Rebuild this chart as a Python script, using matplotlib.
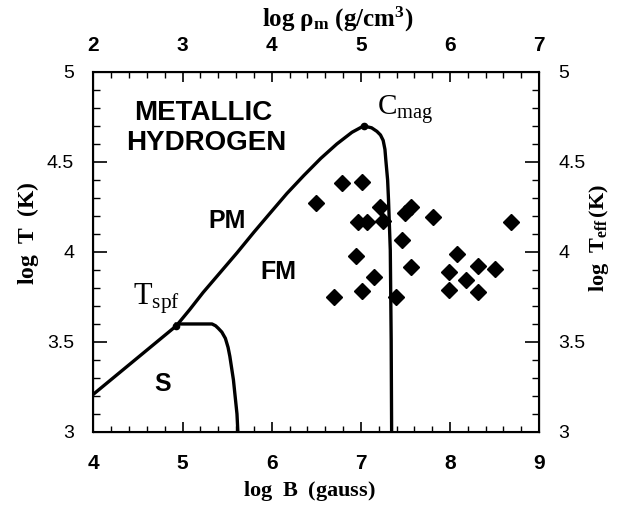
import matplotlib
matplotlib.use("Agg")
import matplotlib.pyplot as plt
from matplotlib.ticker import MultipleLocator

plt.rcParams['mathtext.fontset'] = 'custom'
plt.rcParams['mathtext.rm'] = 'Liberation Serif'
plt.rcParams['mathtext.it'] = 'Liberation Serif:italic'
plt.rcParams['mathtext.bf'] = 'Liberation Serif:bold'

# PM boundary: from the left edge through Tspf up to Cmag
upper_B = [4.0, 4.93, 5.08, 5.23, 5.42, 5.61, 5.80, 5.98, 6.17, 6.36, 6.55, 6.73, 6.90, 7.03]
upper_T = [3.21, 3.59, 3.68, 3.775, 3.885, 3.995, 4.11, 4.215, 4.325, 4.425, 4.52, 4.60, 4.665, 4.70]
# FM boundary: from Cmag down to the bottom
right_B = [7.03, 7.12, 7.18, 7.22, 7.25, 7.27, 7.28, 7.30, 7.31, 7.33, 7.34, 7.345]
right_T = [4.70, 4.69, 4.67, 4.65, 4.62, 4.57, 4.51, 4.40, 4.29, 4.01, 3.51, 3.0]
# S boundary: from Tspf down to the bottom
lower_B = [4.93, 5.33, 5.37, 5.40, 5.44, 5.48, 5.51, 5.53, 5.57, 5.61, 5.62]
lower_T = [3.60, 3.60, 3.59, 3.576, 3.555, 3.52, 3.47, 3.42, 3.29, 3.10, 3.0]

# special points
tspf = (4.93, 3.59)
cmag = (7.03, 4.70)

# magnetic white dwarfs (log B, log Teff)
wd_B = [6.79, 7.01, 6.50, 7.22, 7.56, 7.49, 7.81, 6.97, 7.07, 7.25, 8.68, 7.46,
        6.95, 8.08, 7.56, 7.99, 8.31, 8.50, 7.15, 8.18, 7.01, 7.99, 8.31, 6.70, 7.39]
wd_T = [4.385, 4.39, 4.274, 4.252, 4.248, 4.218, 4.196, 4.165, 4.168, 4.172, 4.167, 4.067,
        3.979, 3.989, 3.918, 3.887, 3.922, 3.904, 3.863, 3.844, 3.783, 3.789, 3.779, 3.748, 3.748]

y_ticks = [3, 3.5, 4, 4.5, 5]
y_labels = ['3', '3.5', '4', '4.5', '5']

fig = plt.figure(figsize=(6.19, 5.07), dpi=100)
ax = fig.add_axes([0.151, 0.148, 0.720, 0.710])

ax.plot(upper_B, upper_T, color='black', lw=2.4, solid_joinstyle='round')
ax.plot(right_B, right_T, color='black', lw=2.4, solid_joinstyle='round')
ax.plot(lower_B, lower_T, color='black', lw=2.4, solid_joinstyle='round')
ax.plot([tspf[0], cmag[0]], [tspf[1], cmag[1]], 'o', color='black', ms=4.5, ls='none')
ax.plot(wd_B, wd_T, 'D', color='black', ms=8, ls='none')

ax.set_xlim(4, 9)
ax.set_ylim(3, 5)

ax.text(5.23, 4.772, 'METALLIC', ha='center', va='center', fontsize=20,
        fontweight='bold', family='Liberation Sans')
ax.text(5.26, 4.606, 'HYDROGEN', ha='center', va='center', fontsize=20,
        fontweight='bold', family='Liberation Sans')
ax.text(5.50, 4.172, 'PM', ha='center', va='center', fontsize=18,
        fontweight='bold', family='Liberation Sans')
ax.text(6.07, 3.889, 'FM', ha='center', va='center', fontsize=18,
        fontweight='bold', family='Liberation Sans')
ax.text(4.78, 3.267, 'S', ha='center', va='center', fontsize=18,
        fontweight='bold', family='Liberation Sans')
ax.text(4.44, 3.706, r'$\mathrm{T_{spf}}$', ha='left', va='baseline', fontsize=22)
ax.text(7.18, 4.761, r'$\mathrm{C_{mag}}$', ha='left', va='baseline', fontsize=21)

# ticks
ax.set_yticks(y_ticks)
ax.set_yticklabels(y_labels, family='Liberation Sans', fontsize=14)
ax.xaxis.set_major_locator(MultipleLocator(1))
ax.xaxis.set_minor_locator(MultipleLocator(0.2))
ax.yaxis.set_minor_locator(MultipleLocator(0.1))
ax.tick_params(axis='x', which='major', direction='in', length=7, width=1.2, pad=16,
               labelsize=15)
ax.tick_params(axis='x', which='minor', direction='in', length=4, width=1.0)
ax.tick_params(axis='y', which='major', direction='in', length=10, width=1.2, pad=14,
               labelsize=14)
ax.tick_params(axis='y', which='minor', direction='in', length=5, width=1.0)
for lab in ax.get_xticklabels():
    lab.set_fontweight('bold')
    lab.set_family('Liberation Sans')

for s in ax.spines.values():
    s.set_linewidth(1.5)

# top axis: density
top = ax.twiny()
top.set_xlim(2, 7)
top.xaxis.set_major_locator(MultipleLocator(1))
top.xaxis.set_minor_locator(MultipleLocator(0.2))
top.tick_params(axis='x', which='major', direction='in', length=7, width=1.2, pad=12,
                labelsize=15)
top.tick_params(axis='x', which='minor', direction='in', length=4, width=1.0)
for lab in top.get_xticklabels():
    lab.set_fontweight('bold')
    lab.set_family('Liberation Sans')

# right axis: effective temperature
right = ax.twinx()
right.set_ylim(3, 5)
right.set_yticks(y_ticks)
right.set_yticklabels(y_labels, family='Liberation Sans', fontsize=14)
right.yaxis.set_minor_locator(MultipleLocator(0.1))
right.tick_params(axis='y', which='major', direction='in', length=10, width=1.2, pad=14,
                  labelsize=14)
right.tick_params(axis='y', which='minor', direction='in', length=5, width=1.0)

fig.text(0.545, 0.962, r'$\mathbf{log\ \rho_m\ (g/cm^3)}$', ha='center', va='center', fontsize=18)
fig.text(0.50, 0.031, r'$\mathbf{log\ \ \mathbf{B}\ \ (gauss)}$', ha='center', va='center', fontsize=16)
fig.text(0.045, 0.540, r'$\mathbf{log\ \ T\ \ (K)}$', ha='center', va='center', rotation=90, fontsize=17)
fig.text(0.968, 0.530, r'$\mathbf{log\ \ T_{eff}\,(K)}$', ha='center', va='center', rotation=90, fontsize=16)

fig.savefig('out.png', dpi=100)
